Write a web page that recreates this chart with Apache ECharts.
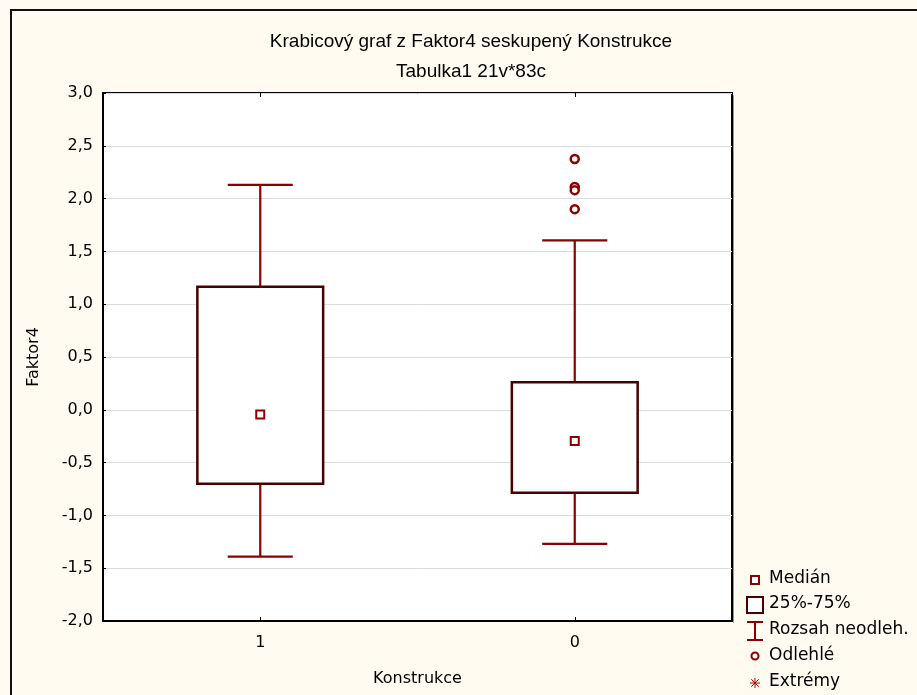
<!DOCTYPE html>
<html>
<head>
<meta charset="utf-8">
<script src="https://cdn.jsdelivr.net/npm/echarts@6/dist/echarts.min.js"></script>
<style>
  html, body { margin: 0; padding: 0; background: #fff; }
  #chart { position: absolute; left: 0; top: 0; width: 917px; height: 695px; }
</style>
</head>
<body>
<div id="chart"></div>
<script>
// Skupiny (kategorie osy X)
const categories = ['1', '0'];
// Dolní mez nevybočujících hodnot, 25 %, medián, 75 %, horní mez
const whiskerLow  = [-1.39, -1.27];
const quartile25  = [-0.70, -0.785];
const medians     = [-0.045, -0.295];
const quartile75  = [1.165, 0.26];
const whiskerHigh = [2.13, 1.605];
// Odlehlé hodnoty: [index skupiny, hodnota]
const outliers = [[1, 2.375], [1, 2.11], [1, 2.08], [1, 1.90]];
// Popisky legendy
const legendLabels = ['Medián', '25%-75%', 'Rozsah neodleh.', 'Odlehlé', 'Extrémy'];

const boxData = categories.map((c, i) => [i, whiskerLow[i], quartile25[i], quartile75[i], whiskerHigh[i]]);
const medianData = categories.map((c, i) => [i, medians[i]]);

const WHISKER = '#8b0000';
const BOXLINE = '#4a0000';
const FONT = '"DejaVu Sans", Verdana, sans-serif';
const TITLEFONT = '"Liberation Sans", Arial, sans-serif';

const chart = echarts.init(document.getElementById('chart'), null, { renderer: 'canvas' });

// Legenda kreslená ručně vpravo dole
const legendY = [580, 605, 631, 657, 683];
const legendGraphics = [];
// Medián
legendGraphics.push({ type: 'rect', shape: { x: 751, y: legendY[0] - 4, width: 8, height: 8 },
  style: { fill: '#fff', stroke: WHISKER, lineWidth: 2 } });
// 25%-75%
legendGraphics.push({ type: 'rect', shape: { x: 747, y: legendY[1] - 8, width: 16, height: 16 },
  style: { fill: '#fff', stroke: BOXLINE, lineWidth: 2 } });
// Rozsah
legendGraphics.push({ type: 'polyline', shape: { points: [[747, legendY[2] - 9], [763, legendY[2] - 9]] },
  style: { stroke: WHISKER, lineWidth: 2 } });
legendGraphics.push({ type: 'polyline', shape: { points: [[747, legendY[2] + 9], [763, legendY[2] + 9]] },
  style: { stroke: WHISKER, lineWidth: 2 } });
legendGraphics.push({ type: 'polyline', shape: { points: [[755, legendY[2] - 9], [755, legendY[2] + 9]] },
  style: { stroke: WHISKER, lineWidth: 2 } });
// Odlehlé
legendGraphics.push({ type: 'circle', shape: { cx: 755, cy: legendY[3] - 1, r: 3.5 },
  style: { fill: '#fff', stroke: WHISKER, lineWidth: 2 } });
// Extrémy (hvězdička)
(function () {
  const cx = 755, cy = legendY[4], r = 5;
  const pts = [[0, -r, 0, r], [-r, 0, r, 0], [-r * 0.75, -r * 0.75, r * 0.75, r * 0.75], [-r * 0.75, r * 0.75, r * 0.75, -r * 0.75]];
  pts.forEach(p => legendGraphics.push({ type: 'line', shape: { x1: cx + p[0], y1: cy + p[1], x2: cx + p[2], y2: cy + p[3] },
    style: { stroke: '#c00000', lineWidth: 1 } }));
})();
legendLabels.forEach((t, i) => legendGraphics.push({
  type: 'text', left: 769, top: legendY[i] - 10,
  style: { text: t, fill: '#000', font: '17px ' + FONT }
}));

const option = {
  backgroundColor: '#fffbf0',
  animation: false,
  title: [
    { text: 'Krabicový graf z Faktor4 seskupený Konstrukce', left: 466, top: 27, textAlign: 'center',
      textStyle: { fontFamily: TITLEFONT, fontSize: 19, fontWeight: 'normal', color: '#000' } },
    { text: 'Tabulka1 21v*83c', left: 466, top: 57, textAlign: 'center',
      textStyle: { fontFamily: TITLEFONT, fontSize: 19, fontWeight: 'normal', color: '#000' } }
  ],
  graphic: [
    // rámeček celého grafu
    { type: 'rect', z: -1, shape: { x: 11, y: 10, width: 920, height: 700 },
      style: { fill: 'none', stroke: '#111', lineWidth: 2 } },
    // stín vpravo od plochy grafu
    { type: 'line', shape: { x1: 733.5, y1: 95, x2: 733.5, y2: 623 }, style: { stroke: '#999', lineWidth: 1 } }
  ].concat(legendGraphics),
  grid: {
    left: 103, top: 93, right: 185, bottom: 74,
    show: true, backgroundColor: '#fff', borderColor: '#000', borderWidth: 2
  },
  xAxis: [
    {
      type: 'category', data: categories, boundaryGap: true, position: 'bottom',
      name: 'Konstrukce', nameLocation: 'middle', nameGap: 50,
      nameTextStyle: { fontFamily: FONT, fontSize: 16, color: '#000' },
      axisLine: { show: true, onZero: false, lineStyle: { color: '#000', width: 2 } },
      axisTick: { show: true, alignWithLabel: true, inside: true, length: 4, lineStyle: { color: '#000' } },
      axisLabel: { fontFamily: FONT, fontSize: 16, color: '#000', margin: 14 },
      splitLine: { show: false }
    },
    {
      type: 'category', data: categories, boundaryGap: true, position: 'top',
      axisLine: { show: false, onZero: false },
      axisTick: { show: true, alignWithLabel: true, inside: true, length: 4, lineStyle: { color: '#000' } },
      axisLabel: { show: false }, splitLine: { show: false }
    }
  ],
  yAxis: {
    type: 'value', min: -2, max: 3, interval: 0.5,
    name: 'Faktor4', nameLocation: 'middle', nameGap: 61, nameRotate: 90,
    nameTextStyle: { fontFamily: FONT, fontSize: 16, color: '#000' },
    axisLine: { show: true, onZero: false, lineStyle: { color: '#000', width: 2 } },
    axisTick: { show: true, inside: true, length: 3, lineStyle: { color: '#000' } },
    axisLabel: { fontFamily: FONT, fontSize: 16, color: '#000', margin: 10,
      formatter: v => v.toFixed(1).replace('.', ',') },
    splitLine: { show: true, lineStyle: { color: '#dcdcdc', width: 1 } }
  },
  series: [
    {
      type: 'custom',
      data: boxData,
      encode: { x: 0, y: [1, 2, 3, 4] },
      renderItem: function (params, api) {
        const i = api.value(0);
        const lo = api.coord([i, api.value(1)]);
        const q1 = api.coord([i, api.value(2)]);
        const q3 = api.coord([i, api.value(3)]);
        const hi = api.coord([i, api.value(4)]);
        const band = api.size([1, 0])[0];
        const bw = band * 0.4, cw = band * 0.207;
        const x = lo[0];
        const ws = { stroke: WHISKER, lineWidth: 2.2, fill: null };
        return {
          type: 'group',
          children: [
            { type: 'line', shape: { x1: x, y1: hi[1], x2: x, y2: q3[1] }, style: ws },
            { type: 'line', shape: { x1: x, y1: q1[1], x2: x, y2: lo[1] }, style: ws },
            { type: 'line', shape: { x1: x - cw / 2, y1: hi[1], x2: x + cw / 2, y2: hi[1] }, style: ws },
            { type: 'line', shape: { x1: x - cw / 2, y1: lo[1], x2: x + cw / 2, y2: lo[1] }, style: ws },
            { type: 'rect', shape: { x: x - bw / 2, y: q3[1], width: bw, height: q1[1] - q3[1] },
              style: { fill: '#fff', stroke: BOXLINE, lineWidth: 2.5 } }
          ]
        };
      },
      z: 2
    },
    {
      type: 'scatter', data: medianData, symbol: 'rect', symbolSize: 8,
      itemStyle: { color: '#fff', borderColor: WHISKER, borderWidth: 2, opacity: 1 }, z: 3
    },
    {
      type: 'scatter', data: outliers, symbol: 'circle', symbolSize: 8,
      itemStyle: { color: '#fff', borderColor: WHISKER, borderWidth: 2.5, opacity: 1 }, z: 3
    }
  ]
};
chart.setOption(option);
</script>
</body>
</html>
